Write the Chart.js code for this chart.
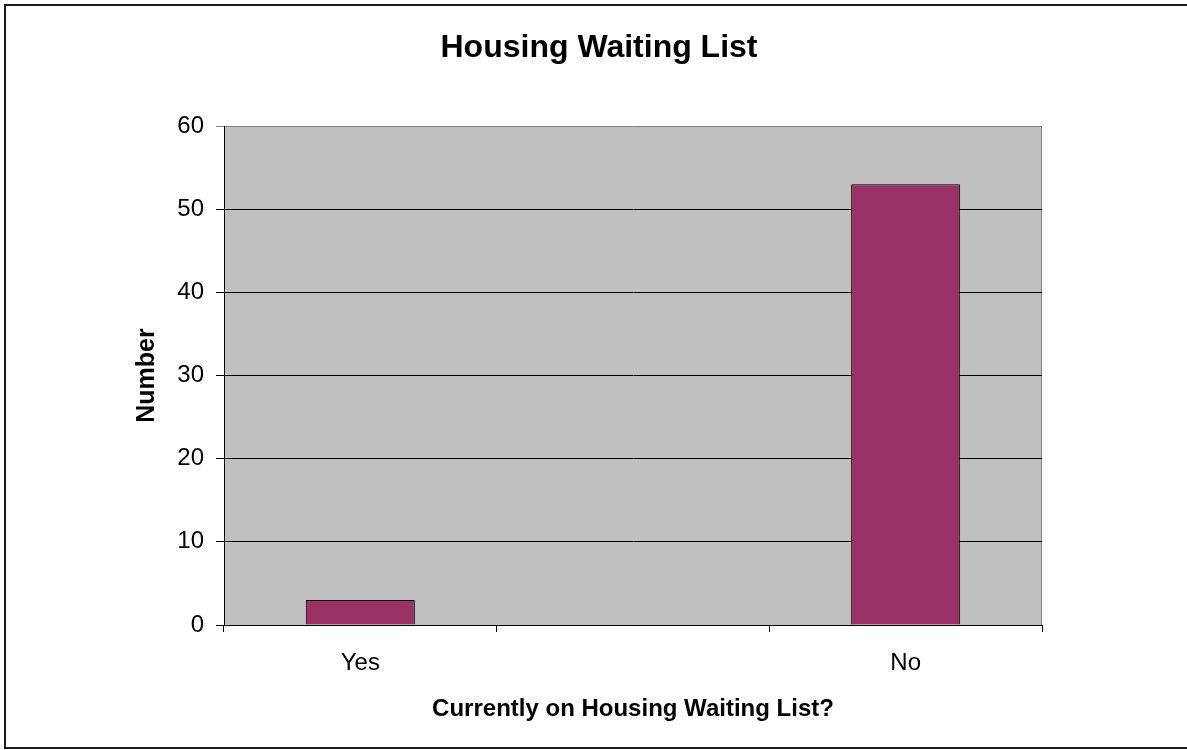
<!DOCTYPE html>
<html lang="en">
<head>
    <meta charset="UTF-8">
    <title>Housing Waiting List</title>
    <style>
        body {
            margin: 0;
            padding: 0;
            background: #fff;
            overflow: hidden;
        }
        canvas {
            display: block;
        }
    </style>
</head>
<body>
    <canvas id="chart" width="1187" height="750"></canvas>
    <script src="https://cdn.jsdelivr.net/npm/chart.js"></script>
    <script>
        // data (middle slot is empty in the original)
        const categories = ['Yes', '', 'No'];
        const counts = [3, null, 53];
        const yTicks = [0, 10, 20, 30, 40, 50, 60];

        const FONT = 'Arial, "Liberation Sans", sans-serif';

        // grey plot area + outer frame
        const plotBackground = {
            id: 'plotBackground',
            beforeDraw(chart) {
                const { ctx, chartArea: a } = chart;
                ctx.save();
                ctx.fillStyle = '#c0c0c0';
                ctx.fillRect(a.left, a.top, a.right - a.left, a.bottom - a.top);
                ctx.strokeStyle = '#808080';
                ctx.lineWidth = 1;
                ctx.beginPath();
                ctx.moveTo(a.right - 0.5, a.top);
                ctx.lineTo(a.right - 0.5, a.bottom);
                ctx.stroke();
                ctx.restore();
            },
            afterDraw(chart) {
                const ctx = chart.ctx;
                ctx.save();
                ctx.strokeStyle = '#1a1a1a';
                ctx.lineWidth = 2;
                ctx.strokeRect(5, 5, chart.width + 10, 743);
                ctx.restore();
            }
        };

        new Chart(document.getElementById('chart'), {
            type: 'bar',
            data: {
                labels: categories,
                datasets: [{
                    data: counts,
                    backgroundColor: '#993366',
                    borderColor: '#000',
                    borderWidth: 1,
                    barPercentage: 0.4,
                    categoryPercentage: 1
                }]
            },
            options: {
                responsive: false,
                animation: false,
                layout: {
                    // left padding chosen so the chart title sits where the original's does
                    padding: { left: 156, right: 145, top: 0, bottom: 20 }
                },
                plugins: {
                    legend: { display: false },
                    tooltip: { enabled: false },
                    title: {
                        display: true,
                        text: 'Housing Waiting List',
                        color: '#000',
                        font: { family: FONT, size: 32, weight: 'bold', lineHeight: 1.2 },
                        padding: { top: 29, bottom: 58.6 }
                    }
                },
                scales: {
                    x: {
                        afterFit(scale) { scale.height = 105; },
                        grid: {
                            display: true,
                            offset: true,
                            drawOnChartArea: false,
                            drawTicks: true,
                            tickLength: 7,
                            color: '#000'
                        },
                        border: { display: true, color: '#000', width: 1 },
                        ticks: {
                            color: '#000',
                            padding: 17,
                            font: { family: FONT, size: 24 }
                        },
                        title: {
                            display: true,
                            text: 'Currently on Housing Waiting List?',
                            color: '#000',
                            font: { family: FONT, size: 24, weight: 'bold', lineHeight: 1.2 },
                            padding: { top: 0, bottom: 6 }
                        }
                    },
                    y: {
                        min: yTicks[0],
                        max: yTicks[yTicks.length - 1],
                        afterFit(scale) { scale.width = 68; },
                        afterBuildTicks(scale) {
                            scale.ticks = yTicks.map(v => ({ value: v }));
                        },
                        grid: {
                            color: ctx => ctx.tick && ctx.tick.value === 60 ? '#808080' : '#000',
                            lineWidth: 1,
                            drawTicks: true,
                            tickLength: 8
                        },
                        border: { display: true, color: '#000', width: 1 },
                        ticks: {
                            color: '#000',
                            padding: 12,
                            font: { family: FONT, size: 24 }
                        },
                        title: {
                            display: true,
                            text: 'Number',
                            color: '#000',
                            font: { family: FONT, size: 25, weight: 'bold', lineHeight: 1.2 },
                            // negative so the title lands left of the padded area
                            padding: { top: -24, bottom: 0 }
                        }
                    }
                }
            },
            plugins: [plotBackground]
        });
    </script>
</body>
</html>
